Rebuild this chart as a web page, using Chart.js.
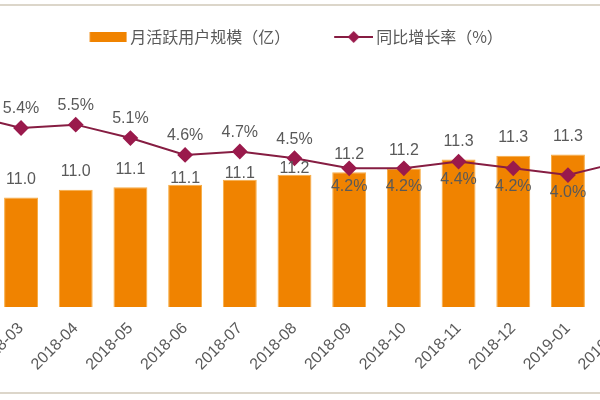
<!DOCTYPE html>
<html>
<head>
<meta charset="utf-8">
<script src="https://cdn.jsdelivr.net/npm/chart.js@4/dist/chart.umd.min.js"></script>
<style>
  html, body { margin: 0; padding: 0; background: #fff; }
  body { width: 600px; height: 400px; overflow: hidden; position: relative; }
  #frame { position: absolute; left: 0; top: 4px; width: 600px; height: 386px;
           border-top: 2px solid #dcd6ca; border-bottom: 2px solid #dcd6ca; }
  #wrap { position: absolute; left: -131.5px; width: 851px; }
</style>
</head>
<body>
<div id="frame"></div>
<div id="wrap"><canvas id="chart"></canvas></div>
<script>
// datos (2018-02 y 2019-02 quedan recortados en los bordes)
const months = ['2018-02', '2018-03', '2018-04', '2018-05', '2018-06', '2018-07', '2018-08',
                '2018-09', '2018-10', '2018-11', '2018-12', '2019-01', '2019-02'];
const mau = [10.92, 10.98, 11.04, 11.06, 11.08, 11.12, 11.16, 11.18, 11.21, 11.28, 11.31, 11.32, 11.35];
const yoy = [5.8, 5.4, 5.5, 5.1, 4.6, 4.7, 4.5, 4.2, 4.2, 4.4, 4.2, 4.0, 4.4];

const seriesNames = ['月活跃用户规模（亿）', '同比增长率（%）'];

const ORANGE = '#f08300';
const MAROON = '#861d42';
const GRAY = '#595959';

// leyenda: el canvas se sube para que los ítems queden en y=37
const legendPad = 42;
const canvasTop = 37 - 8 - legendPad;
const wrap = document.getElementById('wrap');
wrap.style.top = canvasTop + 'px';
wrap.style.height = (400 - canvasTop) + 'px';

// iconos de la leyenda
function barIcon() {
  const c = document.createElement('canvas');
  c.width = 46; c.height = 12;
  const g = c.getContext('2d');
  g.fillStyle = ORANGE;
  g.fillRect(8.5, 1, 37, 10);
  return c;
}
function lineIcon() {
  const c = document.createElement('canvas');
  c.width = 46; c.height = 14;
  const g = c.getContext('2d');
  g.strokeStyle = MAROON;
  g.lineWidth = 2;
  g.beginPath(); g.moveTo(7, 7); g.lineTo(46, 7); g.stroke();
  g.fillStyle = '#9a1a4c';
  g.beginPath();
  g.moveTo(26.5, 1); g.lineTo(32.5, 7); g.lineTo(26.5, 13); g.lineTo(20.5, 7);
  g.closePath(); g.fill();
  return c;
}
const icons = [barIcon(), lineIcon()];

// etiquetas de valores sobre barras y puntos
const valueLabels = {
  id: 'valueLabels',
  afterDatasetsDraw(chart) {
    const ctx = chart.ctx;
    const bars = chart.getDatasetMeta(0).data;
    const pts = chart.getDatasetMeta(1).data;
    ctx.save();
    ctx.font = '16px "Liberation Sans", Arial, sans-serif';
    ctx.fillStyle = GRAY;
    ctx.textAlign = 'center';
    ctx.textBaseline = 'middle';
    bars.forEach((bar, i) => {
      const pt = pts[i];
      const above = pt.y < bar.y - 10;
      let barY = bar.y - 18;
      if (above && Math.abs(pt.y - barY) < 12) barY = bar.y - 6;
      ctx.fillText(mau[i].toFixed(1), bar.x, barY);
      ctx.fillText(yoy[i].toFixed(1) + '%', pt.x, above ? pt.y - 19 : pt.y + 18);
    });
    ctx.restore();
  }
};

new Chart(document.getElementById('chart').getContext('2d'), {
  type: 'bar',
  data: {
    labels: months,
    datasets: [{
      type: 'bar',
      label: seriesNames[0],
      data: mau,
      yAxisID: 'y',
      backgroundColor: ORANGE,
      borderColor: '#f7ad45',
      borderWidth: 1,
      barPercentage: 0.62,
      categoryPercentage: 1,
      order: 2
    }, {
      type: 'line',
      label: seriesNames[1],
      data: yoy,
      yAxisID: 'y1',
      borderColor: MAROON,
      borderWidth: 2,
      pointStyle: 'rectRot',
      pointRadius: 6.5,
      pointBackgroundColor: '#9a1a4c',
      pointBorderColor: '#9a1a4c',
      tension: 0,
      order: 1
    }]
  },
  options: {
    responsive: true,
    maintainAspectRatio: false,
    animation: false,
    layout: { padding: { left: 70, right: 70, top: 0, bottom: 0 } },
    plugins: {
      tooltip: { enabled: false },
      legend: {
        position: 'top',
        labels: {
          usePointStyle: true,
          pointStyleWidth: 36,
          padding: legendPad,
          color: GRAY,
          font: { family: '"Noto Sans CJK SC", sans-serif', size: 16 },
          sort: (a, b) => a.datasetIndex - b.datasetIndex,
          generateLabels(chart) {
            const items = Chart.defaults.plugins.legend.labels.generateLabels(chart);
            items.forEach(it => { it.pointStyle = icons[it.datasetIndex]; });
            return items;
          }
        }
      }
    },
    scales: {
      x: {
        offset: true,
        grid: { display: false, drawTicks: false },
        border: { display: false },
        ticks: {
          autoSkip: false,
          maxRotation: 45,
          minRotation: 45,
          padding: 12,
          color: GRAY,
          font: { family: '"Liberation Sans", Arial, sans-serif', size: 16 }
        },
        afterFit(scale) { scale.height = 93; }
      },
      y: { display: false, min: 10.11, max: 12.11 },
      y1: { display: false, min: 0.0726, max: 7.5726 }
    }
  },
  plugins: [valueLabels]
});
</script>
</body>
</html>
